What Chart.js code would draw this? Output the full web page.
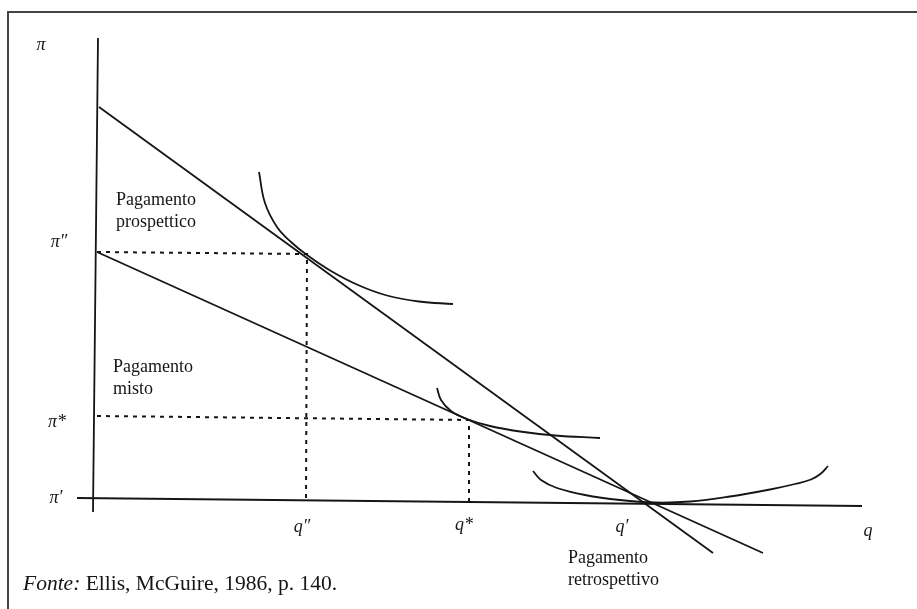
<!DOCTYPE html>
<html lang="it">
<head>
<meta charset="UTF-8">
<title>Pagamento prospettico, misto e retrospettivo</title>
<script src="https://cdn.jsdelivr.net/npm/chart.js"></script>
<style>
  body { margin: 0; background: #fff; }
  .wrap { position: relative; width: 917px; height: 609px; overflow: hidden; }
  .frame {
    position: absolute; left: 7px; top: 11px; right: -4px; bottom: -4px;
    border-top: 2px solid #444; border-left: 2px solid #444;
  }
  #diagram { position: absolute; left: 0; top: 0; }
</style>
</head>
<body>
<div class="wrap">
  <div class="frame"></div>
  <canvas id="diagram" width="917" height="609"></canvas>
</div>

<script>
  // values: [q, pi]
  const axisPi = [[0.3, 46.3], [-0.2, -1.1]];
  const axisQ = [[-1.8, 0.3], [76.7, -0.5]];
  const prospettico = [[0.4, 39.4], [61.8, -5.2]];
  const misto = [[0.2, 24.9], [66.8, -5.2]];
  const guideSecond = [[0.2, 24.9], [21.2, 24.7], [21.1, 0.3]];
  const guideStar = [[0.2, 8.5], [37.4, 8.1], [37.4, 0.0]];
  const curveHigh = [[16.4, 32.9], [17.0, 29.8], [18.2, 27.4], [19.6, 25.9], [21.2, 24.6],
    [23.6, 23.0], [26.3, 21.6], [29.2, 20.55], [32.4, 19.95], [35.8, 19.7]];
  const curveMid = [[34.2, 11.3], [34.6, 10.1], [35.6, 9.0], [37.2, 8.2], [39.5, 7.5],
    [42.5, 6.95], [46.0, 6.55], [50.5, 6.3]];
  const curveLow = [[43.8, 3.0], [44.6, 2.1], [46.2, 1.3], [49.0, 0.6], [52.5, 0.1], [56.0, -0.15],
    [59.5, -0.05], [63.5, 0.45], [67.5, 1.15], [70.0, 1.7], [71.6, 2.15], [72.6, 2.75], [73.3, 3.5]];

  const symbols = [
    ['π', -5.4, 45.6], ['π″', -3.6, 25.9], ['π*', -3.8, 7.9], ['π′', -3.9, 0.3],
    ['q″', 20.7, -2.6], ['q*', 36.9, -2.4], ['q′', 52.7, -2.6], ['q', 77.3, -3.0]
  ];
  const notes = [
    [['Pagamento', 'prospettico'], 2.1, 30.1],
    [['Pagamento', 'misto'], 1.8, 13.4],
    [['Pagamento', 'retrospettivo'], 47.3, -5.7]
  ];
  const source = ['Fonte:', ' Ellis, McGuire, 1986, p. 140.'];

  const ink = '#151515';
  const pts = arr => arr.map(p => ({ x: p[0], y: p[1] }));

  function seg(data, extra) {
    return Object.assign({
      data: pts(data), borderColor: ink, borderWidth: 1.8,
      pointRadius: 0, fill: false, tension: 0, showLine: true
    }, extra || {});
  }

  const textPlugin = {
    id: 'diagramText',
    afterDatasetsDraw(chart) {
      const { ctx, scales: { x, y } } = chart;
      ctx.save();
      ctx.fillStyle = ink;
      ctx.textBaseline = 'middle';

      ctx.textAlign = 'center';
      ctx.font = 'italic 18px "Liberation Serif"';
      symbols.forEach(s => ctx.fillText(s[0], x.getPixelForValue(s[1]), y.getPixelForValue(s[2])));

      ctx.textAlign = 'left';
      ctx.font = '18px "Liberation Serif"';
      notes.forEach(n => {
        const px = x.getPixelForValue(n[1]);
        const py = y.getPixelForValue(n[2]);
        n[0].forEach((line, i) => ctx.fillText(line, px, py + i * 22));
      });

      const sx = x.getPixelForValue(-7.2);
      const sy = y.getPixelForValue(-8.3);
      ctx.font = 'italic 21.5px "Liberation Serif"';
      ctx.fillText(source[0], sx, sy);
      const w = ctx.measureText(source[0]).width;
      ctx.font = '21.5px "Liberation Serif"';
      ctx.fillText(source[1], sx + w, sy);
      ctx.restore();
    }
  };

  new Chart(document.getElementById('diagram'), {
    type: 'scatter',
    data: {
      datasets: [
        seg(axisPi),
        seg(axisQ),
        seg(prospettico),
        seg(misto),
        seg(guideSecond, { borderWidth: 2, borderDash: [4, 5] }),
        seg(guideStar, { borderWidth: 2, borderDash: [4, 5] }),
        seg(curveHigh, { tension: 0.4 }),
        seg(curveMid, { tension: 0.4 }),
        seg(curveLow, { tension: 0.4 })
      ]
    },
    options: {
      responsive: false,
      animation: false,
      layout: { padding: 0 },
      plugins: { legend: { display: false }, tooltip: { enabled: false } },
      scales: {
        x: { type: 'linear', display: false, min: -9.5, max: 82.2 },
        y: { type: 'linear', display: false, min: -10.8, max: 50.1 }
      }
    },
    plugins: [textPlugin]
  });
</script>
</body>
</html>
